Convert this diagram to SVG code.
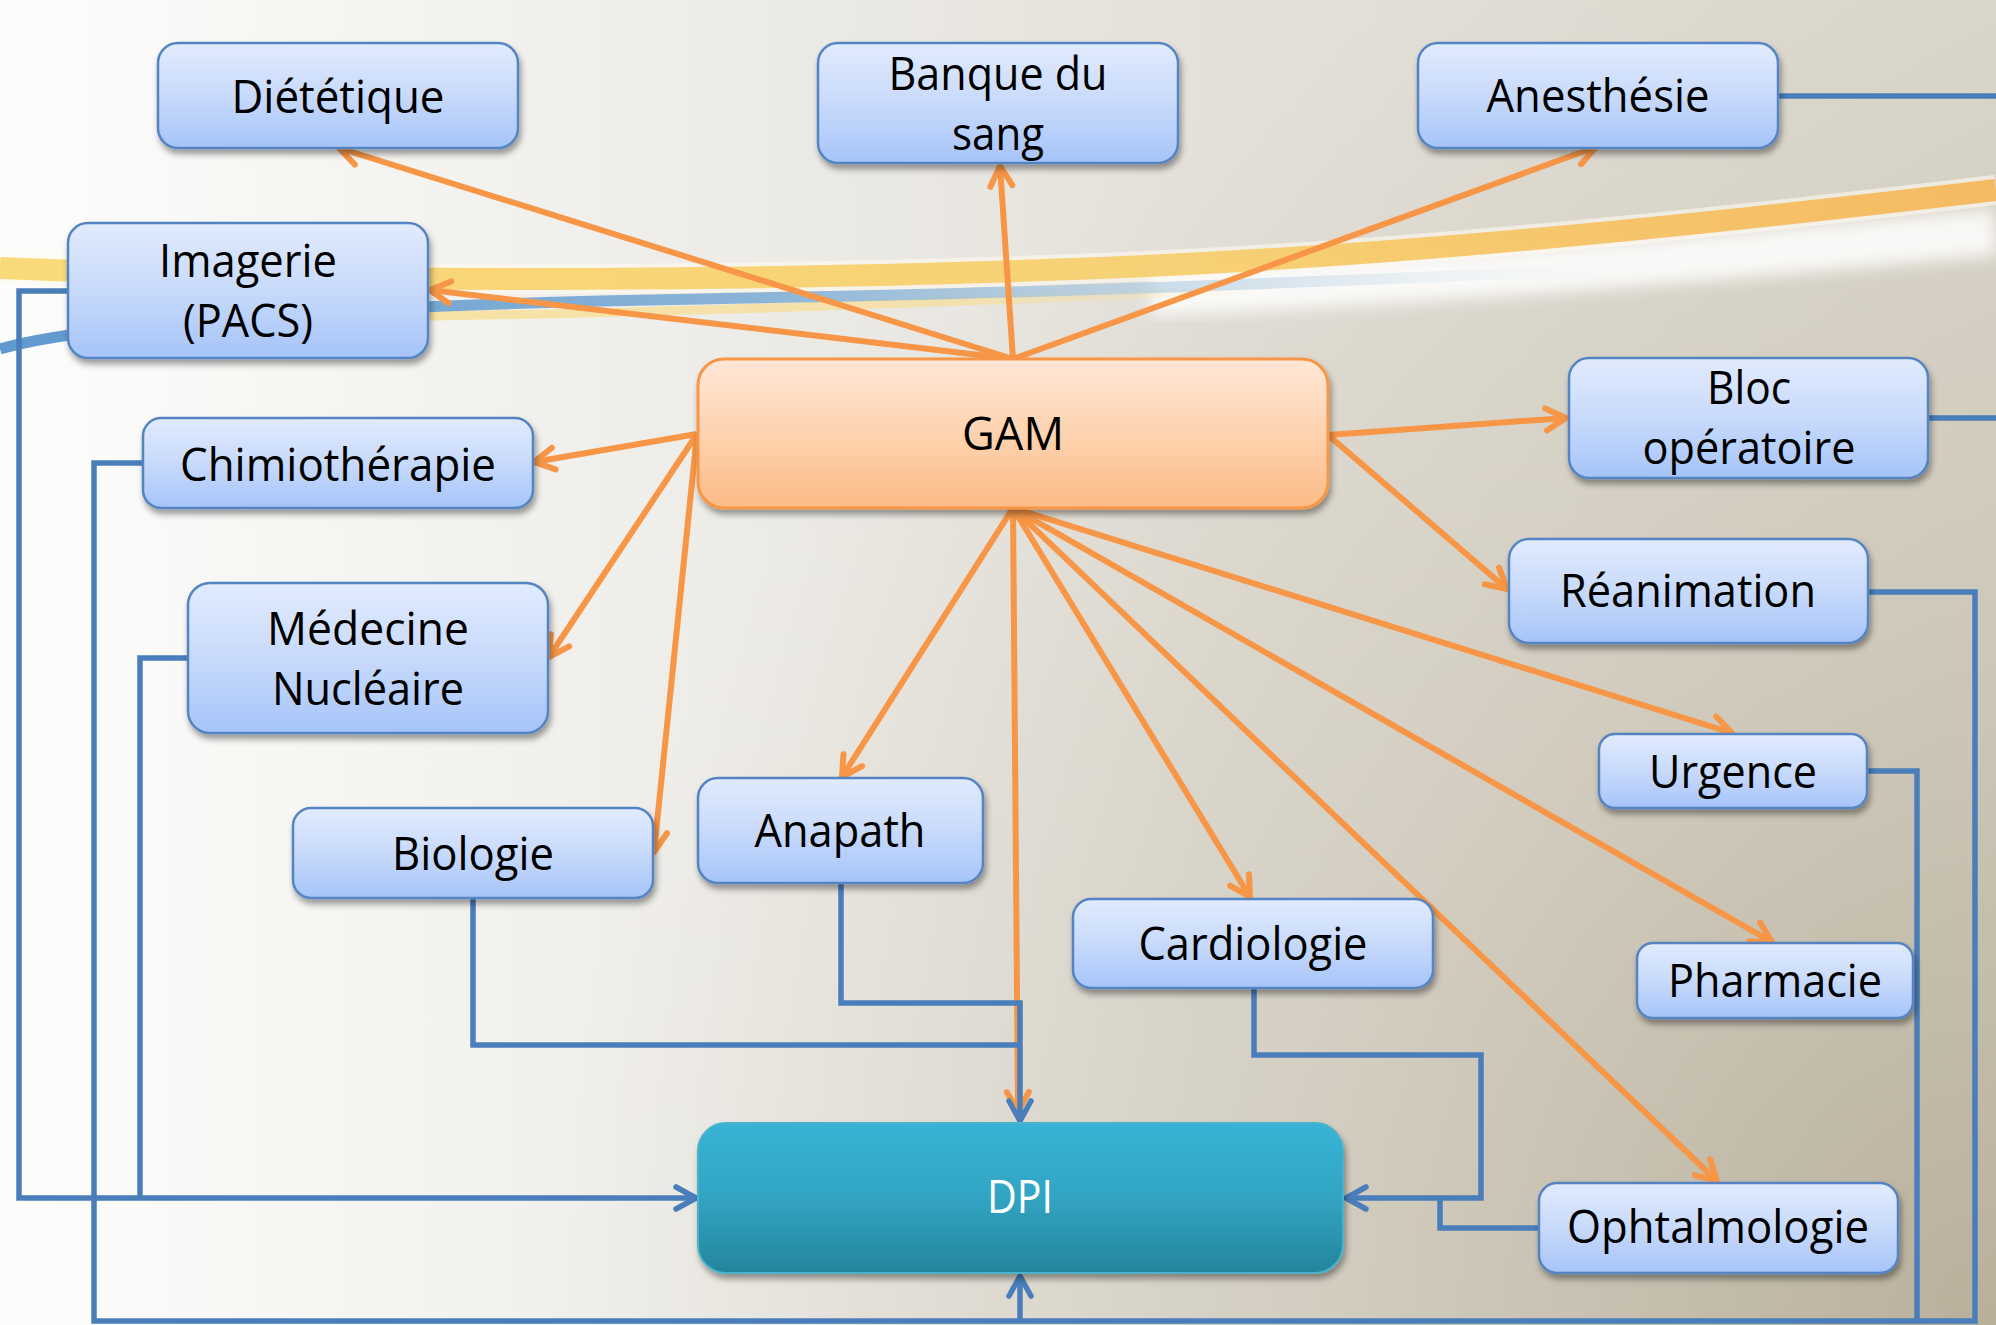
<svg xmlns="http://www.w3.org/2000/svg" width="1996" height="1325" viewBox="0 0 1996 1325">
<defs>
<linearGradient id="bg" x1="0" y1="0" x2="1" y2="0">
<stop offset="0" stop-color="#fdfdfc"/>
<stop offset="0.3" stop-color="#f0efeb"/>
<stop offset="0.6" stop-color="#e4e1da"/>
<stop offset="1" stop-color="#dcd8ce"/>
</linearGradient>
<radialGradient id="bg2" gradientUnits="userSpaceOnUse" cx="1996" cy="1325" r="1450">
<stop offset="0" stop-color="#a2957a" stop-opacity="0.6"/>
<stop offset="0.5" stop-color="#a89c80" stop-opacity="0.25"/>
<stop offset="1" stop-color="#a89c80" stop-opacity="0"/>
</radialGradient>
<linearGradient id="blueN" x1="0" y1="0" x2="0" y2="1">
<stop offset="0" stop-color="#e1ebfd"/>
<stop offset="0.5" stop-color="#c8dafb"/>
<stop offset="1" stop-color="#a6c4f9"/>
</linearGradient>
<linearGradient id="gamN" x1="0" y1="0" x2="0" y2="1">
<stop offset="0" stop-color="#fee7d7"/>
<stop offset="0.5" stop-color="#fed3b0"/>
<stop offset="1" stop-color="#fcbb86"/>
</linearGradient>
<linearGradient id="dpiN" x1="0" y1="0" x2="0" y2="1">
<stop offset="0" stop-color="#38b3d5"/>
<stop offset="0.5" stop-color="#32a4c3"/>
<stop offset="1" stop-color="#23859b"/>
</linearGradient>
<linearGradient id="yel" gradientUnits="userSpaceOnUse" x1="0" y1="0" x2="1996" y2="0">
<stop offset="0" stop-color="#f9d66c"/>
<stop offset="0.6" stop-color="#f7cd68"/>
<stop offset="1" stop-color="#f5b554"/>
</linearGradient>
<linearGradient id="yel2" gradientUnits="userSpaceOnUse" x1="250" y1="0" x2="1250" y2="0">
<stop offset="0" stop-color="#f9dc8a" stop-opacity="0"/>
<stop offset="0.15" stop-color="#f9dc8a" stop-opacity="1"/>
<stop offset="0.7" stop-color="#f9dc8a" stop-opacity="0.8"/>
<stop offset="1" stop-color="#f9dc8a" stop-opacity="0"/>
</linearGradient>
<linearGradient id="blu" gradientUnits="userSpaceOnUse" x1="0" y1="0" x2="1700" y2="0">
<stop offset="0" stop-color="#4e8ec8"/>
<stop offset="0.45" stop-color="#80aed5"/>
<stop offset="0.75" stop-color="#b9d2e4" stop-opacity="0.6"/>
<stop offset="1" stop-color="#ffffff" stop-opacity="0"/>
</linearGradient>
<filter id="blur" x="-5%" y="-50%" width="110%" height="200%"><feGaussianBlur stdDeviation="8"/></filter>
<filter id="sh" x="-10%" y="-10%" width="130%" height="140%">
<feDropShadow dx="2" dy="5" stdDeviation="3" flood-color="#000" flood-opacity="0.38"/>
</filter>
<marker id="ao" viewBox="-26 -16 32 32" refX="0" refY="0" markerWidth="32" markerHeight="32" markerUnits="userSpaceOnUse" orient="auto" overflow="visible">
<path d="M-20,-11 L0,0 L-20,11" fill="none" stroke="#f79646" stroke-width="6" stroke-linecap="round" stroke-linejoin="round"/>
</marker>
<marker id="ab" viewBox="-26 -16 32 32" refX="0" refY="0" markerWidth="32" markerHeight="32" markerUnits="userSpaceOnUse" orient="auto" overflow="visible">
<path d="M-20,-11 L0,0 L-20,11" fill="none" stroke="#4a7ebb" stroke-width="5.5" stroke-linecap="round" stroke-linejoin="round"/>
</marker>
</defs>
<style>
.bn{fill:url(#blueN);stroke:#5584c2;stroke-width:2.5;filter:url(#sh)}
.gn{fill:url(#gamN);stroke:#f79646;stroke-width:3;filter:url(#sh)}
.dn{fill:url(#dpiN);stroke:#4cb2cc;stroke-width:2;filter:url(#sh)}
.t{font-family:"Open Sans","Liberation Sans",sans-serif;font-size:45px;fill:#000;text-anchor:middle}
.w{fill:#fff}
.o{stroke:#f79646;stroke-width:6;fill:none;marker-end:url(#ao)}
.b{stroke:#4a7ebb;stroke-width:5.5;fill:none;stroke-linejoin:miter}
.ba{marker-end:url(#ab)}
</style>
<rect x="0" y="0" width="1996" height="1325" fill="url(#bg)"/>
<rect x="0" y="0" width="1996" height="1325" fill="url(#bg2)"/>
<g id="swoosh" fill="none">
<path d="M1150,292 C1500,278 1800,250 1996,232" stroke="#ffffff" stroke-width="46" opacity="0.85" filter="url(#blur)"/>
<path d="M0,268 C400,285 800,280 1100,268 S1700,225 1996,190" stroke="#fffaf0" stroke-width="30" opacity="0.6"/>
<path d="M0,268 C400,285 800,280 1100,268 S1700,225 1996,190" stroke="url(#yel)" stroke-width="22" opacity="0.9"/>
<path d="M250,318 C600,316 900,304 1250,290" stroke="url(#yel2)" stroke-width="9" opacity="0.75"/>
<path d="M0,349 C80,326 300,306 700,299 S1250,284 1700,266" stroke="url(#blu)" stroke-width="11" opacity="0.9"/>
</g>
<g id="connectors">
<line class="o" x1="1013" y1="359" x2="339" y2="148"/>
<line class="o" x1="1013" y1="359" x2="430" y2="290"/>
<line class="o" x1="1013" y1="359" x2="1000" y2="166"/>
<line class="o" x1="1013" y1="359" x2="1596" y2="147"/>
<line class="o" x1="697" y1="434" x2="534" y2="462"/>
<line class="o" x1="697" y1="434" x2="549" y2="657"/>
<line class="o" x1="697" y1="434" x2="654" y2="852"/>
<line class="o" x1="1328" y1="435" x2="1566" y2="418"/>
<line class="o" x1="1328" y1="435" x2="1507" y2="589"/>
<line class="o" x1="1013" y1="508" x2="842" y2="777"/>
<line class="o" x1="1013" y1="508" x2="1018" y2="1112"/>
<line class="o" x1="1013" y1="508" x2="1250" y2="897"/>
<line class="o" x1="1013" y1="508" x2="1732" y2="733"/>
<line class="o" x1="1013" y1="508" x2="1772" y2="942"/>
<line class="o" x1="1013" y1="508" x2="1717" y2="1181"/>
<path class="b ba" d="M68,291 H19 V1198 H696"/>
<path class="b" d="M188,658 H140 V1198"/>
<path class="b" d="M143,463 H94 V1321 H1975 V592 H1868"/>
<path class="b" d="M1868,771 H1917 V1321"/>
<path class="b ba" d="M1020,1321 V1276"/>
<path class="b" d="M473,898 V1045 H1020"/>
<path class="b ba" d="M841,883 V1003 H1020 V1121"/>
<path class="b ba" d="M1254,988 V1055 H1481 V1198 H1346"/>
<path class="b" d="M1539,1228 H1440 V1198"/>
<path class="b" d="M1778,96 H1996"/>
<path class="b" d="M1928,418 H1996"/>
</g>
<g id="n-dietetique"><rect class="bn" x="158" y="43" width="360" height="105" rx="20"/><text class="t" x="338" y="113" textLength="213" lengthAdjust="spacingAndGlyphs">Diététique</text></g>
<g id="n-banque"><rect class="bn" x="818" y="43" width="360" height="120" rx="20"/><text class="t" x="998" y="90" textLength="219" lengthAdjust="spacingAndGlyphs">Banque du</text><text class="t" x="998" y="150" textLength="92" lengthAdjust="spacingAndGlyphs">sang</text></g>
<g id="n-anesthesie"><rect class="bn" x="1418" y="43" width="360" height="105" rx="20"/><text class="t" x="1598" y="112" textLength="223" lengthAdjust="spacingAndGlyphs">Anesthésie</text></g>
<g id="n-imagerie"><rect class="bn" x="68" y="223" width="360" height="135" rx="20"/><text class="t" x="248" y="277" textLength="178" lengthAdjust="spacingAndGlyphs">Imagerie</text><text class="t" x="248" y="337" textLength="130" lengthAdjust="spacingAndGlyphs">(PACS)</text></g>
<g id="n-gam"><rect class="gn" x="698" y="359" width="630" height="149" rx="26"/><text class="t" x="1013" y="450" textLength="102" lengthAdjust="spacingAndGlyphs">GAM</text></g>
<g id="n-bloc"><rect class="bn" x="1569" y="358" width="359" height="120" rx="20"/><text class="t" x="1749" y="404" textLength="84" lengthAdjust="spacingAndGlyphs">Bloc</text><text class="t" x="1749" y="464" textLength="213" lengthAdjust="spacingAndGlyphs">opératoire</text></g>
<g id="n-chimio"><rect class="bn" x="143" y="418" width="390" height="90" rx="18"/><text class="t" x="338" y="481" textLength="316" lengthAdjust="spacingAndGlyphs">Chimiothérapie</text></g>
<g id="n-reanimation"><rect class="bn" x="1509" y="539" width="359" height="104" rx="20"/><text class="t" x="1688" y="607" textLength="256" lengthAdjust="spacingAndGlyphs">Réanimation</text></g>
<g id="n-medecine"><rect class="bn" x="188" y="583" width="360" height="150" rx="22"/><text class="t" x="368" y="645" textLength="202" lengthAdjust="spacingAndGlyphs">Médecine</text><text class="t" x="368" y="705" textLength="192" lengthAdjust="spacingAndGlyphs">Nucléaire</text></g>
<g id="n-urgence"><rect class="bn" x="1599" y="734" width="268" height="74" rx="16"/><text class="t" x="1733" y="788" textLength="168" lengthAdjust="spacingAndGlyphs">Urgence</text></g>
<g id="n-biologie"><rect class="bn" x="293" y="808" width="360" height="90" rx="18"/><text class="t" x="473" y="870" textLength="162" lengthAdjust="spacingAndGlyphs">Biologie</text></g>
<g id="n-anapath"><rect class="bn" x="698" y="778" width="285" height="105" rx="20"/><text class="t" x="840" y="847" textLength="171" lengthAdjust="spacingAndGlyphs">Anapath</text></g>
<g id="n-cardiologie"><rect class="bn" x="1073" y="899" width="360" height="89" rx="18"/><text class="t" x="1253" y="960" textLength="229" lengthAdjust="spacingAndGlyphs">Cardiologie</text></g>
<g id="n-pharmacie"><rect class="bn" x="1637" y="943" width="276" height="75" rx="16"/><text class="t" x="1775" y="997" textLength="214" lengthAdjust="spacingAndGlyphs">Pharmacie</text></g>
<g id="n-dpi"><rect class="dn" x="698" y="1123" width="645" height="150" rx="28"/><text class="t w" x="1020" y="1213" textLength="66" lengthAdjust="spacingAndGlyphs">DPI</text></g>
<g id="n-ophtalmologie"><rect class="bn" x="1539" y="1183" width="359" height="90" rx="18"/><text class="t" x="1718" y="1243" textLength="302" lengthAdjust="spacingAndGlyphs">Ophtalmologie</text></g>
</svg>
